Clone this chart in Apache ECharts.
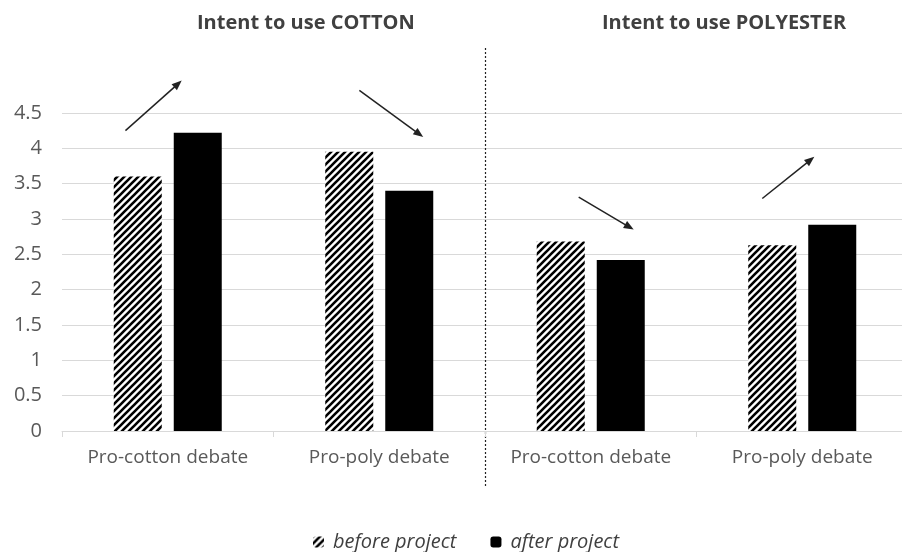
<!DOCTYPE html>
<html>
<head>
<meta charset="utf-8">
<script src="https://cdn.jsdelivr.net/npm/echarts@6/dist/echarts.min.js"></script>
<style>
  html, body { margin: 0; padding: 0; background: #fff; }
  #main { width: 902px; height: 552px; }
</style>
</head>
<body>
<div id="main"></div>
<script>
// data
const categories = ['Pro-cotton debate', 'Pro-poly debate', 'Pro-cotton debate', 'Pro-poly debate'];
const beforeValues = [3.6, 3.95, 2.68, 2.63];
const afterValues = [4.22, 3.4, 2.42, 2.92];
const panelTitles = ['Intent to use COTTON', 'Intent to use POLYESTER'];
// arrows: [category index, start offset, start value, end offset, end value] (offset in category widths)
const arrows = [
  [0, -0.20, 4.25, 0.066, 4.96],
  [1, -0.094, 4.82, 0.208, 4.16],
  [2, -0.057, 3.31, 0.203, 2.85],
  [3, -0.189, 3.29, 0.057, 3.88]
];

const FONT = '"Open Sans", sans-serif';

// hatch pattern for the "before" bars
function makeHatch() {
  const c = document.createElement('canvas');
  const s = 7;
  c.width = s; c.height = s;
  const ctx = c.getContext('2d');
  ctx.fillStyle = '#fff';
  ctx.fillRect(0, 0, s, s);
  ctx.strokeStyle = '#000';
  ctx.lineWidth = 2.6;
  ctx.beginPath();
  ctx.moveTo(-1, s + 1); ctx.lineTo(s + 1, -1);
  ctx.moveTo(-1, 1); ctx.lineTo(1, -1);
  ctx.moveTo(s - 1, s + 1); ctx.lineTo(s + 1, s - 1);
  ctx.stroke();
  return c;
}
const hatch = { image: makeHatch(), repeat: 'repeat' };

const myChart = echarts.init(document.getElementById('main'));

const option = {
  animation: false,
  backgroundColor: '#fff',
  title: [
    { text: panelTitles[0], left: 192, top: 8,
      textStyle: { fontFamily: FONT, fontSize: 20, fontWeight: 'bold', color: '#404040' } },
    { text: panelTitles[1], left: 597, top: 8,
      textStyle: { fontFamily: FONT, fontSize: 20, fontWeight: 'bold', color: '#404040' } }
  ],
  legend: {
    top: 527,
    left: 308,
    itemWidth: 11,
    itemHeight: 11,
    itemGap: 34,
    textStyle: { fontFamily: FONT, fontSize: 20, fontStyle: 'italic', color: '#404040', padding: [0, 0, 0, 4] },
    data: ['before project', 'after project']
  },
  grid: { left: 62, top: 113, width: 846, height: 318, outerBoundsMode: 'none', containLabel: false },
  xAxis: {
    type: 'category',
    data: categories,
    axisLine: { lineStyle: { color: '#d9d9d9' } },
    axisTick: { show: true, length: 6, lineStyle: { color: '#d9d9d9' } },
    axisLabel: { interval: 0, hideOverlap: false, fontFamily: FONT, fontSize: 19, color: '#595959', margin: 17 }
  },
  yAxis: {
    type: 'value',
    min: 0,
    max: 4.5,
    interval: 0.5,
    axisLine: { show: false },
    axisTick: { show: false },
    axisLabel: { fontFamily: FONT, fontSize: 20, color: '#595959', margin: 20 },
    splitLine: { lineStyle: { color: '#d9d9d9', width: 1 } }
  },
  series: [
    {
      name: 'before project',
      type: 'bar',
      data: beforeValues,
      barWidth: 48,
      barGap: '25%',
      itemStyle: { color: hatch }
    },
    {
      name: 'after project',
      type: 'bar',
      data: afterValues,
      barWidth: 48,
      itemStyle: { color: '#000' }
    }
  ]
};
myChart.setOption(option);

// annotations placed through the chart's own scales
function px(i, off, v) {
  const a = myChart.convertToPixel({ gridIndex: 0 }, [0, 0]);
  const b = myChart.convertToPixel({ gridIndex: 0 }, [1, 0]);
  const band = b[0] - a[0];
  const p = myChart.convertToPixel({ gridIndex: 0 }, [i, v]);
  return [p[0] + off * band, p[1]];
}

const graphics = [];
arrows.forEach(function (ar) {
  const s = px(ar[0], ar[1], ar[2]);
  const e = px(ar[0], ar[3], ar[4]);
  const dx = e[0] - s[0], dy = e[1] - s[1];
  const len = Math.sqrt(dx * dx + dy * dy);
  const ux = dx / len, uy = dy / len;
  const hl = 10, hw = 4;
  const bx = e[0] - ux * hl, by = e[1] - uy * hl;
  graphics.push({
    type: 'line',
    shape: { x1: s[0], y1: s[1], x2: bx + ux * 2, y2: by + uy * 2 },
    style: { stroke: '#222', lineWidth: 1.5 }
  });
  graphics.push({
    type: 'polygon',
    shape: { points: [e, [bx - uy * hw, by + ux * hw], [bx + uy * hw, by - ux * hw]] },
    style: { fill: '#222' }
  });
});

// dotted divider between the two panels
const c1 = myChart.convertToPixel({ gridIndex: 0 }, [1, 0]);
const c2 = myChart.convertToPixel({ gridIndex: 0 }, [2, 0]);
const divX = Math.round((c1[0] + c2[0]) / 2) + 0.5;
graphics.push({
  type: 'line',
  shape: { x1: divX, y1: 48, x2: divX, y2: 486 },
  style: { stroke: '#222', lineWidth: 1.2, lineDash: [2, 2] }
});

myChart.setOption({ graphic: graphics });
</script>
</body>
</html>
